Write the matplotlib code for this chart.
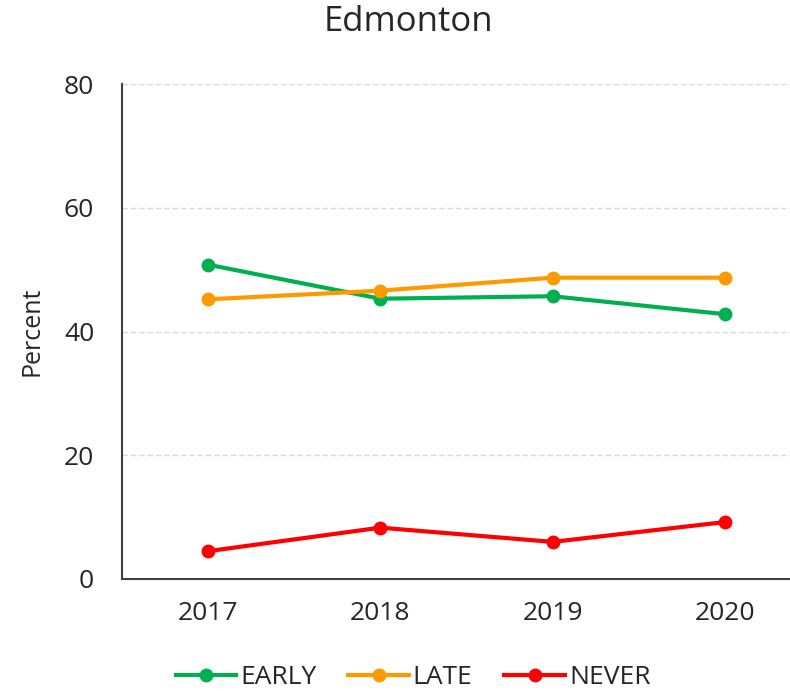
import matplotlib
matplotlib.use("Agg")
import matplotlib.pyplot as plt

years = ["2017", "2018", "2019", "2020"]
early = [50.8, 45.3, 45.7, 42.8]
late = [45.2, 46.6, 48.7, 48.7]
never = [4.5, 8.3, 6.0, 9.2]
y_ticks = [0, 20, 40, 60, 80]

plt.rcParams['font.family'] = ['Open Sans', 'DejaVu Sans']

fig = plt.figure(figsize=(7.9, 6.95), dpi=100)
# axes reaches past the right edge of the figure, as in the reference
ax = fig.add_axes([122 / 790, 1 - 579 / 695, 689 / 790, 495 / 695])

x = range(len(years))
ax.plot(x, early, color='#00B050', lw=3, marker='o', ms=9, label='EARLY', zorder=3)
ax.plot(x, late, color='#FF9900', lw=3, marker='o', ms=9, label='LATE', zorder=3)
ax.plot(x, never, color='#FF0000', lw=3, marker='o', ms=9, label='NEVER', zorder=3)

ax.set_xlim(-0.5, 3.5)
ax.set_ylim(0, 80)
ax.set_xticks(list(x))
ax.set_xticklabels(years)
ax.set_yticks(y_ticks)
ax.tick_params(length=0, labelsize=19, colors='#262626')
ax.tick_params(axis='x', pad=16)
ax.tick_params(axis='y', pad=20)

ax.grid(axis='y', color='#D9D9D9', linestyle=(0, (4, 2)), lw=1)
ax.set_axisbelow(True)
for s in ['top', 'right']:
    ax.spines[s].set_visible(False)
for s in ['left', 'bottom']:
    ax.spines[s].set_color('#404040')
    ax.spines[s].set_linewidth(1.5)

ax.set_ylabel('Percent', fontsize=18, color='#262626', labelpad=14)
fig.text(408 / 790, 1 - 22 / 695, 'Edmonton', fontsize=25, color='#262626',
         ha='center', va='center')

fig.legend(loc='center', bbox_to_anchor=(413 / 790, 1 - 678 / 695), ncol=3,
           frameon=False, fontsize=19, handlelength=2.3, handletextpad=0.15,
           columnspacing=1.2, labelcolor='#262626', borderpad=0.2)

fig.savefig('out.png', dpi=100)
